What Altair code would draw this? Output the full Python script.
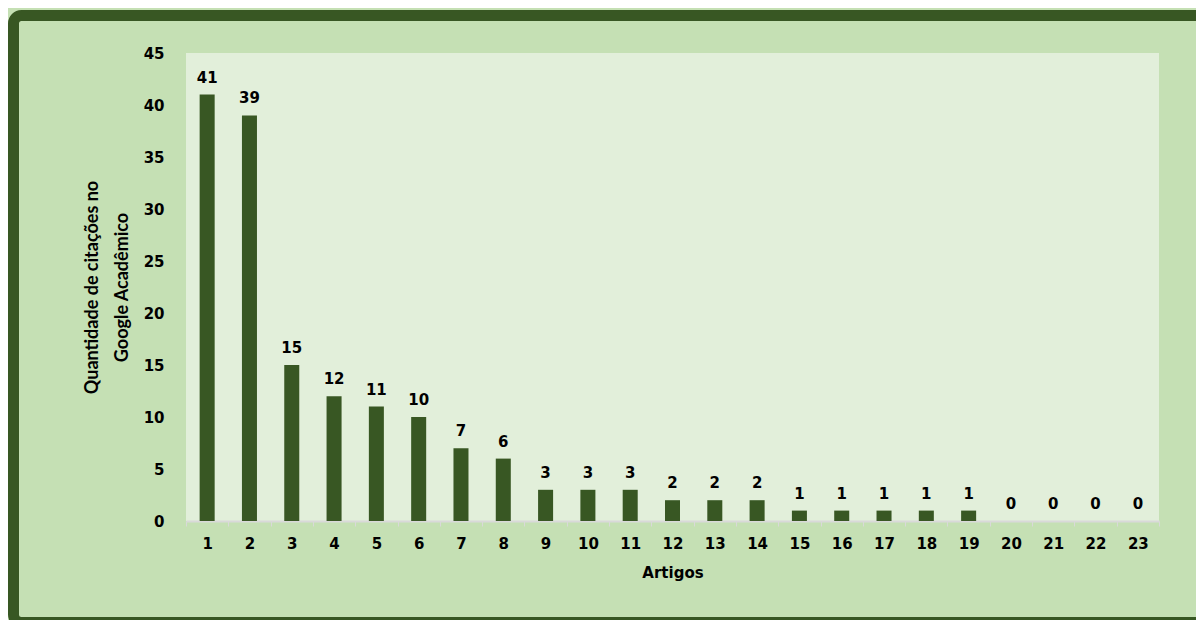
import altair as alt
import pandas as pd

artigos = [str(i) for i in range(1, 24)]
citacoes = [41, 39, 15, 12, 11, 10, 7, 6, 3, 3, 3, 2, 2, 2, 1, 1, 1, 1, 1, 0, 0, 0, 0]

df = pd.DataFrame({"artigo": artigos, "citacoes": citacoes})

DARK = "#385723"
W, H = 973, 468
PAD = {"left": 178, "top": 45, "right": 37, "bottom": 99}

x_enc = alt.X(
    "artigo:N", sort=artigos,
    scale=alt.Scale(paddingInner=0, paddingOuter=0),
    axis=alt.Axis(
        title="Artigos", labelAngle=0, tickBand="extent",
        labelFont="DejaVu Sans", labelFontWeight="bold", labelFontSize=15, labelColor="#000000",
        labelPadding=10, tickSize=5, tickColor="#d9d9d9", domainColor="#d9d9d9", domainWidth=2,
        titleFont="DejaVu Sans", titleFontWeight="bold", titleFontSize=15, titleColor="#000000",
        titlePadding=14,
    ),
)
y_enc = alt.Y(
    "citacoes:Q",
    scale=alt.Scale(domain=[0, 45]),
    axis=alt.Axis(
        values=list(range(0, 50, 5)), grid=False, domain=False, ticks=False,
        title=["Quantidade de citações no", "Google Acadêmico"],
        labelFont="DejaVu Sans", labelFontWeight="bold", labelFontSize=15, labelColor="#000000",
        labelPadding=22,
        titleFont="Lato", titleFontWeight="bold", titleFontSize=18, titleColor="#000000",
        titleLineHeight=30, titlePadding=12,
    ),
)

frame = alt.Chart(pd.DataFrame({"k": [0]})).mark_rect(
    fill=None, stroke=DARK, strokeWidth=11, cornerRadius=8, clip=False
).encode(
    x=alt.value(-172.5), x2=alt.value(W + PAD["right"] + 30),
    y=alt.value(-37.5), y2=alt.value(569.5),
)

bars = alt.Chart(df).mark_bar(color=DARK, width=alt.RelativeBandSize(0.355)).encode(
    x=x_enc, y=y_enc
)

labels = alt.Chart(df).mark_text(
    font="DejaVu Sans", fontWeight="bold", fontSize=15, color="#000000",
    baseline="bottom", dy=-9,
).encode(x=alt.X("artigo:N", sort=artigos), y="citacoes:Q", text="citacoes:Q")

chart = alt.layer(frame, bars, labels).properties(
    width=W, height=H,
    autosize=alt.AutoSizeParams(type="none"),
    padding=PAD,
    background="#c5e0b4",
).configure_view(fill="#e2efda", stroke=None)

chart.save("out.html", embed_options={"renderer": "svg", "actions": False})
